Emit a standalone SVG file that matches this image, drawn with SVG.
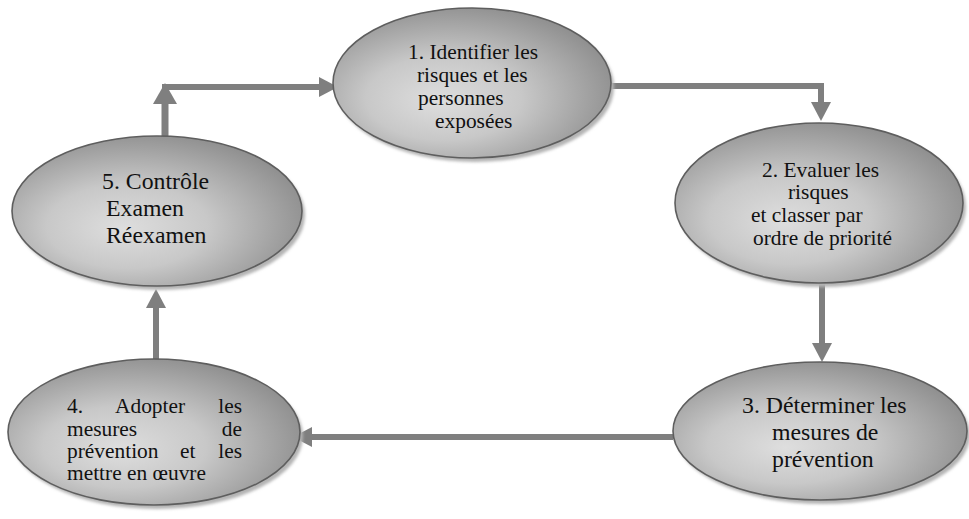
<svg xmlns="http://www.w3.org/2000/svg" width="969" height="519" viewBox="0 0 969 519">
  <defs>
    <radialGradient id="shade" cx="0.42" cy="0.58" r="0.62" fx="0.38" fy="0.62">
      <stop offset="0" stop-color="#dedede"/>
      <stop offset="0.45" stop-color="#c8c8c8"/>
      <stop offset="1" stop-color="#8e8e8e"/>
    </radialGradient>
    <filter id="soft" x="-10%" y="-10%" width="120%" height="120%">
      <feGaussianBlur stdDeviation="1.6"/>
    </filter>
    <marker id="head" markerUnits="userSpaceOnUse" viewBox="0 -11 20 22" refX="0" refY="0" markerWidth="20" markerHeight="22" orient="auto">
      <path d="M0,-10 L19,0 L0,10 z" fill="#7f7f7f"/>
    </marker>
    <marker id="headBig" markerUnits="userSpaceOnUse" viewBox="0 -12 22 24" refX="0" refY="0" markerWidth="22" markerHeight="24" orient="auto">
      <path d="M0,-12 L21,0 L0,12 z" fill="#7f7f7f"/>
    </marker>
  </defs>
  <style>
    .shadow { fill: #b4b4b4; filter: url(#soft); }
    .bubble { fill: url(#shade); stroke: #5e5e5e; stroke-width: 1.6; }
    text { font-family: "Liberation Serif", "Times New Roman", serif; fill: #111; }
    .s21 { font-size: 21.4px; }
    .s24 { font-size: 23.8px; }
    .link { fill: none; stroke: #7f7f7f; stroke-width: 6; }
  </style>

  <rect width="969" height="519" fill="#ffffff"/>

  <!-- connectors -->
  <g id="connectors">
    <path class="link" d="M165,137 L165,104" style="stroke-width:7" marker-end="url(#headBig)"/>
    <path class="link" d="M162,87 L319,87" marker-end="url(#head)"/>
    <path class="link" d="M611,86 L821,86 L821,102" marker-end="url(#head)"/>
    <path class="link" d="M822,283 L822,343" marker-end="url(#head)"/>
    <path class="link" d="M673,437 L312,437" marker-end="url(#head)"/>
    <path class="link" d="M156,360 L156,308" marker-end="url(#head)"/>
  </g>

  <!-- step 1 -->
  <g id="step1" class="s21">
    <ellipse class="shadow" cx="475" cy="87" rx="139" ry="75"/>
    <ellipse class="bubble" cx="472" cy="83" rx="139" ry="75"/>
    <text font-family="Liberation Serif, serif" x="408" y="59">1. Identifier les</text>
    <text font-family="Liberation Serif, serif" x="417" y="82">risques et les</text>
    <text font-family="Liberation Serif, serif" x="418" y="105">personnes</text>
    <text font-family="Liberation Serif, serif" x="435" y="128">exposées</text>
  </g>

  <!-- step 2 -->
  <g id="step2" class="s21">
    <ellipse class="shadow" cx="822" cy="207" rx="144" ry="80"/>
    <ellipse class="bubble" cx="819" cy="203" rx="144" ry="80"/>
    <text font-family="Liberation Serif, serif" x="762" y="177">2. Evaluer les</text>
    <text font-family="Liberation Serif, serif" x="788" y="199">risques</text>
    <text font-family="Liberation Serif, serif" x="751" y="222">et classer par</text>
    <text font-family="Liberation Serif, serif" x="753" y="245">ordre de priorité</text>
  </g>

  <!-- step 3 -->
  <g id="step3" class="s24">
    <ellipse class="shadow" cx="823" cy="435" rx="147" ry="69"/>
    <ellipse class="bubble" cx="820" cy="431" rx="147" ry="69"/>
    <text x="742" y="413">3. Déterminer les</text>
    <text x="772" y="440">mesures de</text>
    <text x="772" y="467">prévention</text>
  </g>

  <!-- step 4 (justified lines) -->
  <g id="step4" class="s21">
    <ellipse class="shadow" cx="157" cy="436" rx="146" ry="73"/>
    <ellipse class="bubble" cx="154" cy="432" rx="146" ry="73"/>
    <text font-family="Liberation Serif, serif" x="67" y="413">4.</text>
    <text font-family="Liberation Serif, serif" x="115" y="413">Adopter</text>
    <text font-family="Liberation Serif, serif" x="242" y="413" text-anchor="end">les</text>
    <text font-family="Liberation Serif, serif" x="67" y="436">mesures</text>
    <text font-family="Liberation Serif, serif" x="242" y="436" text-anchor="end">de</text>
    <text font-family="Liberation Serif, serif" x="67" y="458">prévention</text>
    <text font-family="Liberation Serif, serif" x="180" y="458">et</text>
    <text font-family="Liberation Serif, serif" x="242" y="458" text-anchor="end">les</text>
    <text font-family="Liberation Serif, serif" x="67" y="480">mettre en œuvre</text>
  </g>

  <!-- step 5 -->
  <g id="step5" class="s24">
    <ellipse class="shadow" cx="160" cy="215" rx="145" ry="75"/>
    <ellipse class="bubble" cx="157" cy="211" rx="145" ry="75"/>
    <text x="102" y="189">5. Contrôle</text>
    <text x="106" y="216">Examen</text>
    <text x="106" y="243">Réexamen</text>
  </g>
</svg>
